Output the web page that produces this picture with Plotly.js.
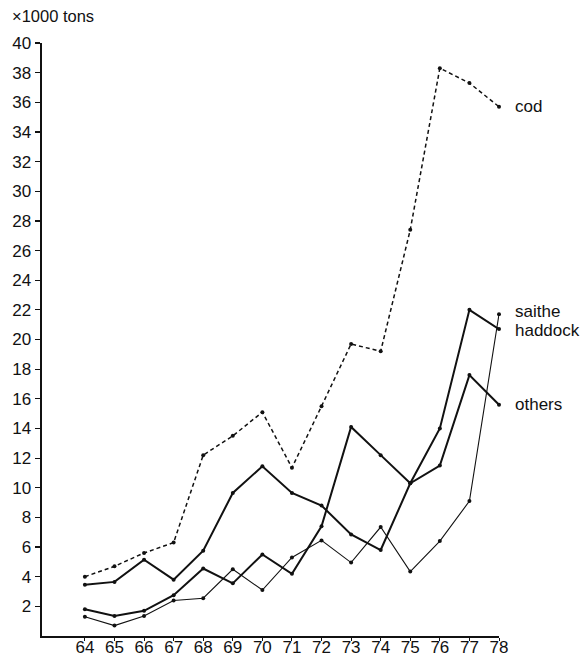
<!DOCTYPE html>
<html>
<head>
<meta charset="utf-8">
<script src="https://cdn.plot.ly/plotly-3.0.1.min.js"></script>
<style>
  html, body { margin: 0; padding: 0; background: #fff; }
  #chart { width: 587px; height: 656px; }
</style>
</head>
<body>
<div id="chart"></div>
<script>
// Years (19xx)
const years = [64, 65, 66, 67, 68, 69, 70, 71, 72, 73, 74, 75, 76, 77, 78];
const yearLabels = ["64","65","66","67","68","69","70","71","72","73","74","75","76","77","78"];

// Catches, x1000 tons
const cod     = [4.0, 4.7, 5.6, 6.3, 12.2, 13.5, 15.1, 11.35, 15.5, 19.7, 19.2, 27.4, 38.3, 37.3, 35.7];
const saithe  = [1.3, 0.7, 1.35, 2.4, 2.55, 4.5, 3.1, 5.3, 6.45, 4.95, 7.35, 4.35, 6.4, 9.1, 21.7];
const haddock = [3.45, 3.65, 5.15, 3.8, 5.75, 9.65, 11.45, 9.65, 8.8, 6.85, 5.8, 10.3, 14.0, 22.0, 20.7];
const others  = [1.8, 1.35, 1.7, 2.75, 4.55, 3.55, 5.5, 4.2, 7.4, 14.1, 12.2, 10.3, 11.5, 17.6, 15.6];

const yTicks = [2,4,6,8,10,12,14,16,18,20,22,24,26,28,30,32,34,36,38,40];

const seriesNames = ["cod", "saithe", "haddock", "others"];
const labelValues = [35.7, 21.9, 20.6, 15.6];

const ink = "#111";
const FONT = "Liberation Sans, Arial, Helvetica, sans-serif";

function trace(y, name, width, dash) {
  return {
    x: years, y: y, name: name, type: "scatter", mode: "lines+markers",
    line: { color: ink, width: width, dash: dash },
    marker: { color: ink, size: 4 },
    cliponaxis: false,
    hoverinfo: "skip"
  };
}

const data = [
  trace(cod, "cod", 1.5, "4px,3px"),
  trace(saithe, "saithe", 1.1, "solid"),
  trace(haddock, "haddock", 2, "solid"),
  trace(others, "others", 2, "solid")
];

const L = 42, R = 88, T = 43, B = 20, W = 587, H = 656;
const plotW = W - L - R;

const annotations = seriesNames.map((n, i) => ({
  text: n, xref: "paper", yref: "y",
  x: (513 - L) / plotW, y: labelValues[i],
  xanchor: "left", yanchor: "middle", showarrow: false,
  font: { family: FONT, size: 17, color: ink }
}));

const layout = {
  width: W, height: H,
  margin: { l: L, r: R, t: T, b: B, pad: 0 },
  paper_bgcolor: "#fff", plot_bgcolor: "#fff",
  showlegend: false,
  title: {
    text: "×1000 tons",
    x: 12 / W, xanchor: "left", xref: "container",
    y: 1 - 16 / H, yanchor: "middle", yref: "container",
    font: { family: FONT, size: 16.5, color: ink }
  },
  xaxis: {
    range: [62.55, 78], tickmode: "array", tickvals: years, ticktext: yearLabels,
    showgrid: false, zeroline: false, showline: true, linecolor: ink, linewidth: 2,
    ticks: "outside", ticklen: 3, tickwidth: 1, tickcolor: ink,
    ticklabelstandoff: -8,
    tickfont: { family: FONT, size: 17, color: ink }, fixedrange: true
  },
  yaxis: {
    range: [0, 40], tickmode: "array", tickvals: yTicks,
    showgrid: false, zeroline: false, showline: true, linecolor: ink, linewidth: 2.5,
    ticks: "outside", ticklen: 5, tickwidth: 1.2, tickcolor: ink,
    tickfont: { family: FONT, size: 17, color: ink }, fixedrange: true
  },
  annotations: annotations
};

Plotly.newPlot("chart", data, layout, { displayModeBar: false, staticPlot: true });
</script>
</body>
</html>
